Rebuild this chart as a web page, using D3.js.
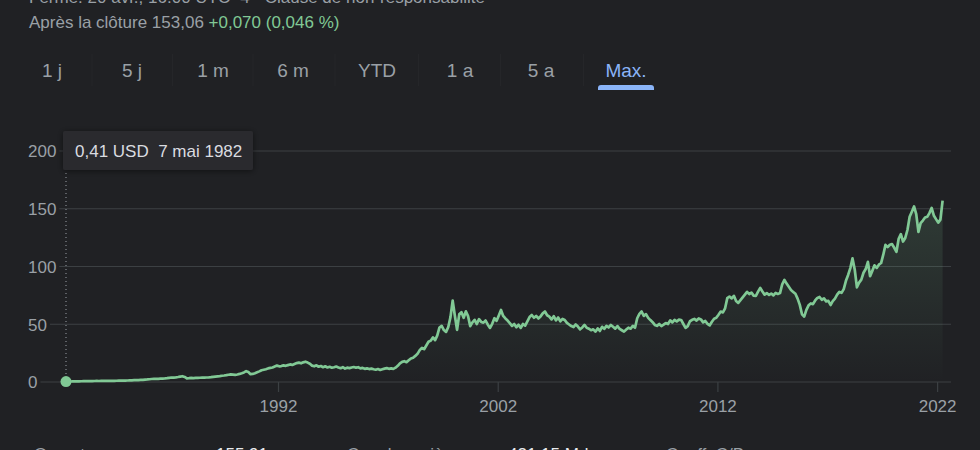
<!DOCTYPE html>
<html><head><meta charset="utf-8">
<script src="https://cdn.jsdelivr.net/npm/d3@7"></script>
<style>
html,body{margin:0;padding:0;background:#202124;overflow:hidden;}
svg{display:block;font-family:Arial,"Liberation Sans",sans-serif;}
</style></head>
<body><svg id="c" width="980" height="450"></svg>
<script>
// ---- data ----
const startYear = 1982.35;   // 7 mai 1982
const stepYears = 0.1;       // sampling step of the series
const prices = [
 0.41,0.42,0.44,0.47,0.5,0.55,0.6,0.64,0.68,0.72,
 0.78,0.82,0.8,0.86,0.9,0.88,0.92,0.95,0.93,0.98,
 1.0,0.98,1.05,1.1,1.12,1.18,1.22,1.25,1.32,1.38,
 1.45,1.55,1.62,1.7,1.8,1.9,2.05,2.2,2.4,2.6,
 2.7,2.8,2.75,2.9,3.0,3.1,3.3,3.6,3.9,3.8,
 4.0,4.3,4.7,5.0,4.4,3.2,3.3,3.5,3.4,3.5,
 3.6,3.7,3.9,3.8,3.9,4.0,4.2,4.5,4.7,4.9,
 5.1,5.4,5.6,5.9,6.3,6.6,6.4,6.2,6.5,7.0,
 7.6,8.3,9.4,8.6,6.8,7.0,7.6,8.4,9.2,10.2,
 10.6,11.0,11.8,12.2,12.6,13.4,14.2,13.6,13.8,14.4,
 14.0,14.6,15.2,14.8,15.6,16.4,16.8,16.2,17.0,17.6,
 16.8,15.8,14.2,13.6,14.4,13.2,13.8,12.8,13.6,12.6,
 13.2,12.4,12.8,13.4,12.6,12.0,12.8,11.6,12.4,12.0,
 12.6,13.0,12.4,12.8,11.8,12.2,11.4,11.8,11.2,11.6,
 11.0,10.6,11.2,10.4,11.0,11.6,12.0,11.4,11.8,11.4,
 12.4,14.0,16.2,17.4,18.0,17.2,18.8,20.4,21.0,22.6,
 24.4,27.6,29.6,28.4,31.6,34.8,35.8,38.6,36.2,40.4,
 47.2,48.6,45.0,43.4,47.6,56.2,70.5,57.4,45.2,58.6,
 60.4,55.6,61.2,57.0,48.4,51.6,53.8,50.2,54.4,52.0,
 51.4,53.2,49.6,46.8,50.4,55.2,53.0,57.6,62.4,57.2,
 55.0,53.2,51.0,48.6,50.2,47.4,49.6,46.8,50.2,48.8,
 52.4,56.2,58.0,55.6,57.2,55.0,56.8,59.4,61.0,57.8,
 56.6,54.2,57.0,53.4,55.8,52.6,54.6,53.7,51.2,49.8,
 48.4,47.6,49.8,48.0,45.6,47.2,49.4,47.0,46.2,44.8,
 45.6,43.6,46.4,44.2,47.8,46.0,48.6,47.2,49.4,47.8,
 46.2,48.4,46.0,44.8,43.6,45.4,47.0,46.2,48.6,47.0,
 55.2,59.0,61.0,57.2,58.8,55.5,53.6,51.8,49.4,48.6,
 50.2,48.4,49.6,51.0,50.2,53.4,51.6,53.8,52.4,54.0,
 53.7,50.2,46.8,48.4,52.6,53.8,54.6,53.2,55.0,54.2,
 51.6,52.8,50.4,49.0,52.2,54.8,55.6,58.2,61.0,60.2,
 63.8,72.6,74.0,72.4,74.6,70.2,68.5,70.8,73.2,75.6,
 78.0,76.2,77.4,74.8,74.6,78.2,81.5,78.4,75.6,77.0,
 75.4,76.6,75.0,77.2,76.2,77.0,84.6,88.4,85.2,82.4,
 79.6,78.0,76.4,72.2,66.8,58.6,56.6,62.4,66.4,68.0,
 67.4,70.6,72.8,73.6,71.2,72.4,69.8,70.2,66.7,70.0,
 72.2,75.6,78.0,77.2,80.4,87.6,92.7,98.6,107.0,97.4,
 82.0,86.0,88.6,94.6,97.8,104.0,91.6,96.2,101.0,98.8,
 101.6,103.0,110.2,118.7,116.8,118.8,119.4,116.2,112.7,124.0,
 128.0,121.6,124.7,131.6,143.0,147.4,152.0,145.4,130.0,137.6,
 139.8,142.4,143.0,146.2,150.7,144.2,141.0,138.0,140.6,157.0
];
const yTicks = [0, 50, 100, 150, 200];
const xTicks = [1992, 2002, 2012, 2022];
const tabs = ["1 j", "5 j", "1 m", "6 m", "YTD", "1 a", "5 a", "Max."];
const activeTab = "Max.";
const tooltipText = "0,41 USD\u00a0\u00a07 mai 1982";
const headerClosed = "Fermé: 20 avr., 16:00 UTC−4 · Clause de non-responsabilité";
const afterLabel = "Après la clôture 153,06 ";
const afterChange = "+0,070 (0,046 %)";
const statsRow = ["Ouverture", "155,91", "Cap. boursière", "421,15 Md", "Coeff. C/B", "—"];

// ---- drawing ----
const svg = d3.select("#c");
const data = prices.map((v, i) => ({ t: startYear + i * stepYears, v }));
const x = d3.scaleLinear().domain([startYear, startYear + (prices.length - 1) * stepYears]).range([66, 942.6]);
const y = d3.scaleLinear().domain([0, 200]).range([382, 151]);

const grey = "#9aa0a6", green = "#81c995", gridC = "#3c4043";

// header text
svg.append("text").attr("x", 29).attr("y", 3).attr("fill", grey).attr("font-size", 17).text(headerClosed);
const hd = svg.append("text").attr("x", 29).attr("y", 28).attr("font-size", 17).attr("fill", grey);
hd.append("tspan").text(afterLabel);
hd.append("tspan").attr("fill", green).text(afterChange);

// tabs
const tabCenters = [52, 132, 213, 293, 377, 460, 541, 626];
tabs.forEach((t, i) => {
  svg.append("text").attr("x", tabCenters[i]).attr("y", 77).attr("text-anchor", "middle")
    .attr("font-size", 19).attr("fill", t === activeTab ? "#8ab4f8" : grey).text(t);
  if (i > 0) {
    const sx = (tabCenters[i - 1] + tabCenters[i]) / 2;
    svg.append("line").attr("x1", sx).attr("x2", sx).attr("y1", 54).attr("y2", 86)
      .attr("stroke", "#252629").attr("stroke-width", 1);
  }
});
const ai = tabs.indexOf(activeTab);
const ac = tabCenters[ai];
svg.append("path").attr("fill", "#8ab4f8")
  .attr("d", `M${ac-28},90 L${ac-28},88 Q${ac-28},85 ${ac-25},85 L${ac+25},85 Q${ac+28},85 ${ac+28},88 L${ac+28},90 Z`);

// gradient
const defs = svg.append("defs");
const lg = defs.append("linearGradient").attr("id", "ag").attr("gradientUnits", "userSpaceOnUse")
  .attr("x1", 0).attr("x2", 0).attr("y1", y(200)).attr("y2", y(0));
lg.append("stop").attr("offset", 0).attr("stop-color", green).attr("stop-opacity", 0.2);
lg.append("stop").attr("offset", 1).attr("stop-color", green).attr("stop-opacity", 0.0);

// y axis labels (left aligned) + gridlines
const yAxis = d3.axisRight(y).tickValues(yTicks).tickSize(0).tickPadding(0);
const yg = svg.append("g").attr("transform", "translate(28,0)").call(yAxis);
yg.select(".domain").remove();
yg.selectAll("text").attr("fill", grey).attr("font-size", 17).attr("font-family", "Arial, 'Liberation Sans', sans-serif").attr("dy", "0.35em");
yg.selectAll(".tick").each(function (d) {
  const tw = this.querySelector("text").getComputedTextLength();
  svg.insert("line", ":first-child").attr("class", "grid")
    .attr("x1", 28 + tw + 3).attr("x2", 951).attr("y1", y(d)).attr("y2", y(d))
    .attr("stroke", gridC).attr("stroke-width", 1.2);
});

// x axis
const xAxis = d3.axisBottom(x).tickValues(xTicks).tickFormat(d3.format("d")).tickSize(10).tickPadding(8);
const xg = svg.append("g").attr("transform", `translate(0,${y(0)})`).call(xAxis);
xg.select(".domain").remove();
xg.selectAll("line").attr("stroke", gridC).attr("stroke-width", 1.2);
xg.selectAll("text").attr("fill", grey).attr("font-size", 17).attr("font-family", "Arial, 'Liberation Sans', sans-serif");

// area + line
svg.append("path").datum(data).attr("fill", "url(#ag)")
  .attr("d", d3.area().x(d => x(d.t)).y0(y(0)).y1(d => y(d.v)));
svg.append("path").datum(data).attr("fill", "none").attr("stroke", green).attr("stroke-width", 2.7)
  .attr("stroke-linejoin", "round")
  .attr("d", d3.line().x(d => x(d.t)).y(d => y(d.v)));

// hover marker
const p0 = data[0];
svg.append("line").attr("x1", x(p0.t)).attr("x2", x(p0.t)).attr("y1", 173).attr("y2", y(p0.v))
  .attr("stroke", grey).attr("stroke-width", 1).attr("stroke-dasharray", "1,3");
svg.append("circle").attr("cx", x(p0.t)).attr("cy", y(p0.v)).attr("r", 5.5).attr("fill", green);

// tooltip
const tip = svg.append("g");
const sh = defs.append("filter").attr("id", "sh").attr("x", "-20%").attr("y", "-50%").attr("width", "140%").attr("height", "200%");
sh.append("feDropShadow").attr("dx", 0).attr("dy", 1).attr("stdDeviation", 3).attr("flood-color", "#000").attr("flood-opacity", 0.5);
tip.append("rect").attr("x", 63).attr("y", 131).attr("width", 190).attr("height", 39).attr("rx", 2)
  .attr("fill", "#292a2d").attr("filter", "url(#sh)");
tip.append("text").attr("x", 75).attr("y", 157).attr("font-size", 17).attr("fill", "#dadce0").text(tooltipText);

// bottom stats row (cut off by the viewport, as in the reference)
const statX = [34, 216, 347, 508, 666, 860];
statsRow.forEach((s, i) => {
  svg.append("text").attr("x", statX[i]).attr("y", 460).attr("font-size", 17)
    .attr("fill", i % 2 ? "#e8eaed" : grey).text(s);
});
</script>
</body></html>
